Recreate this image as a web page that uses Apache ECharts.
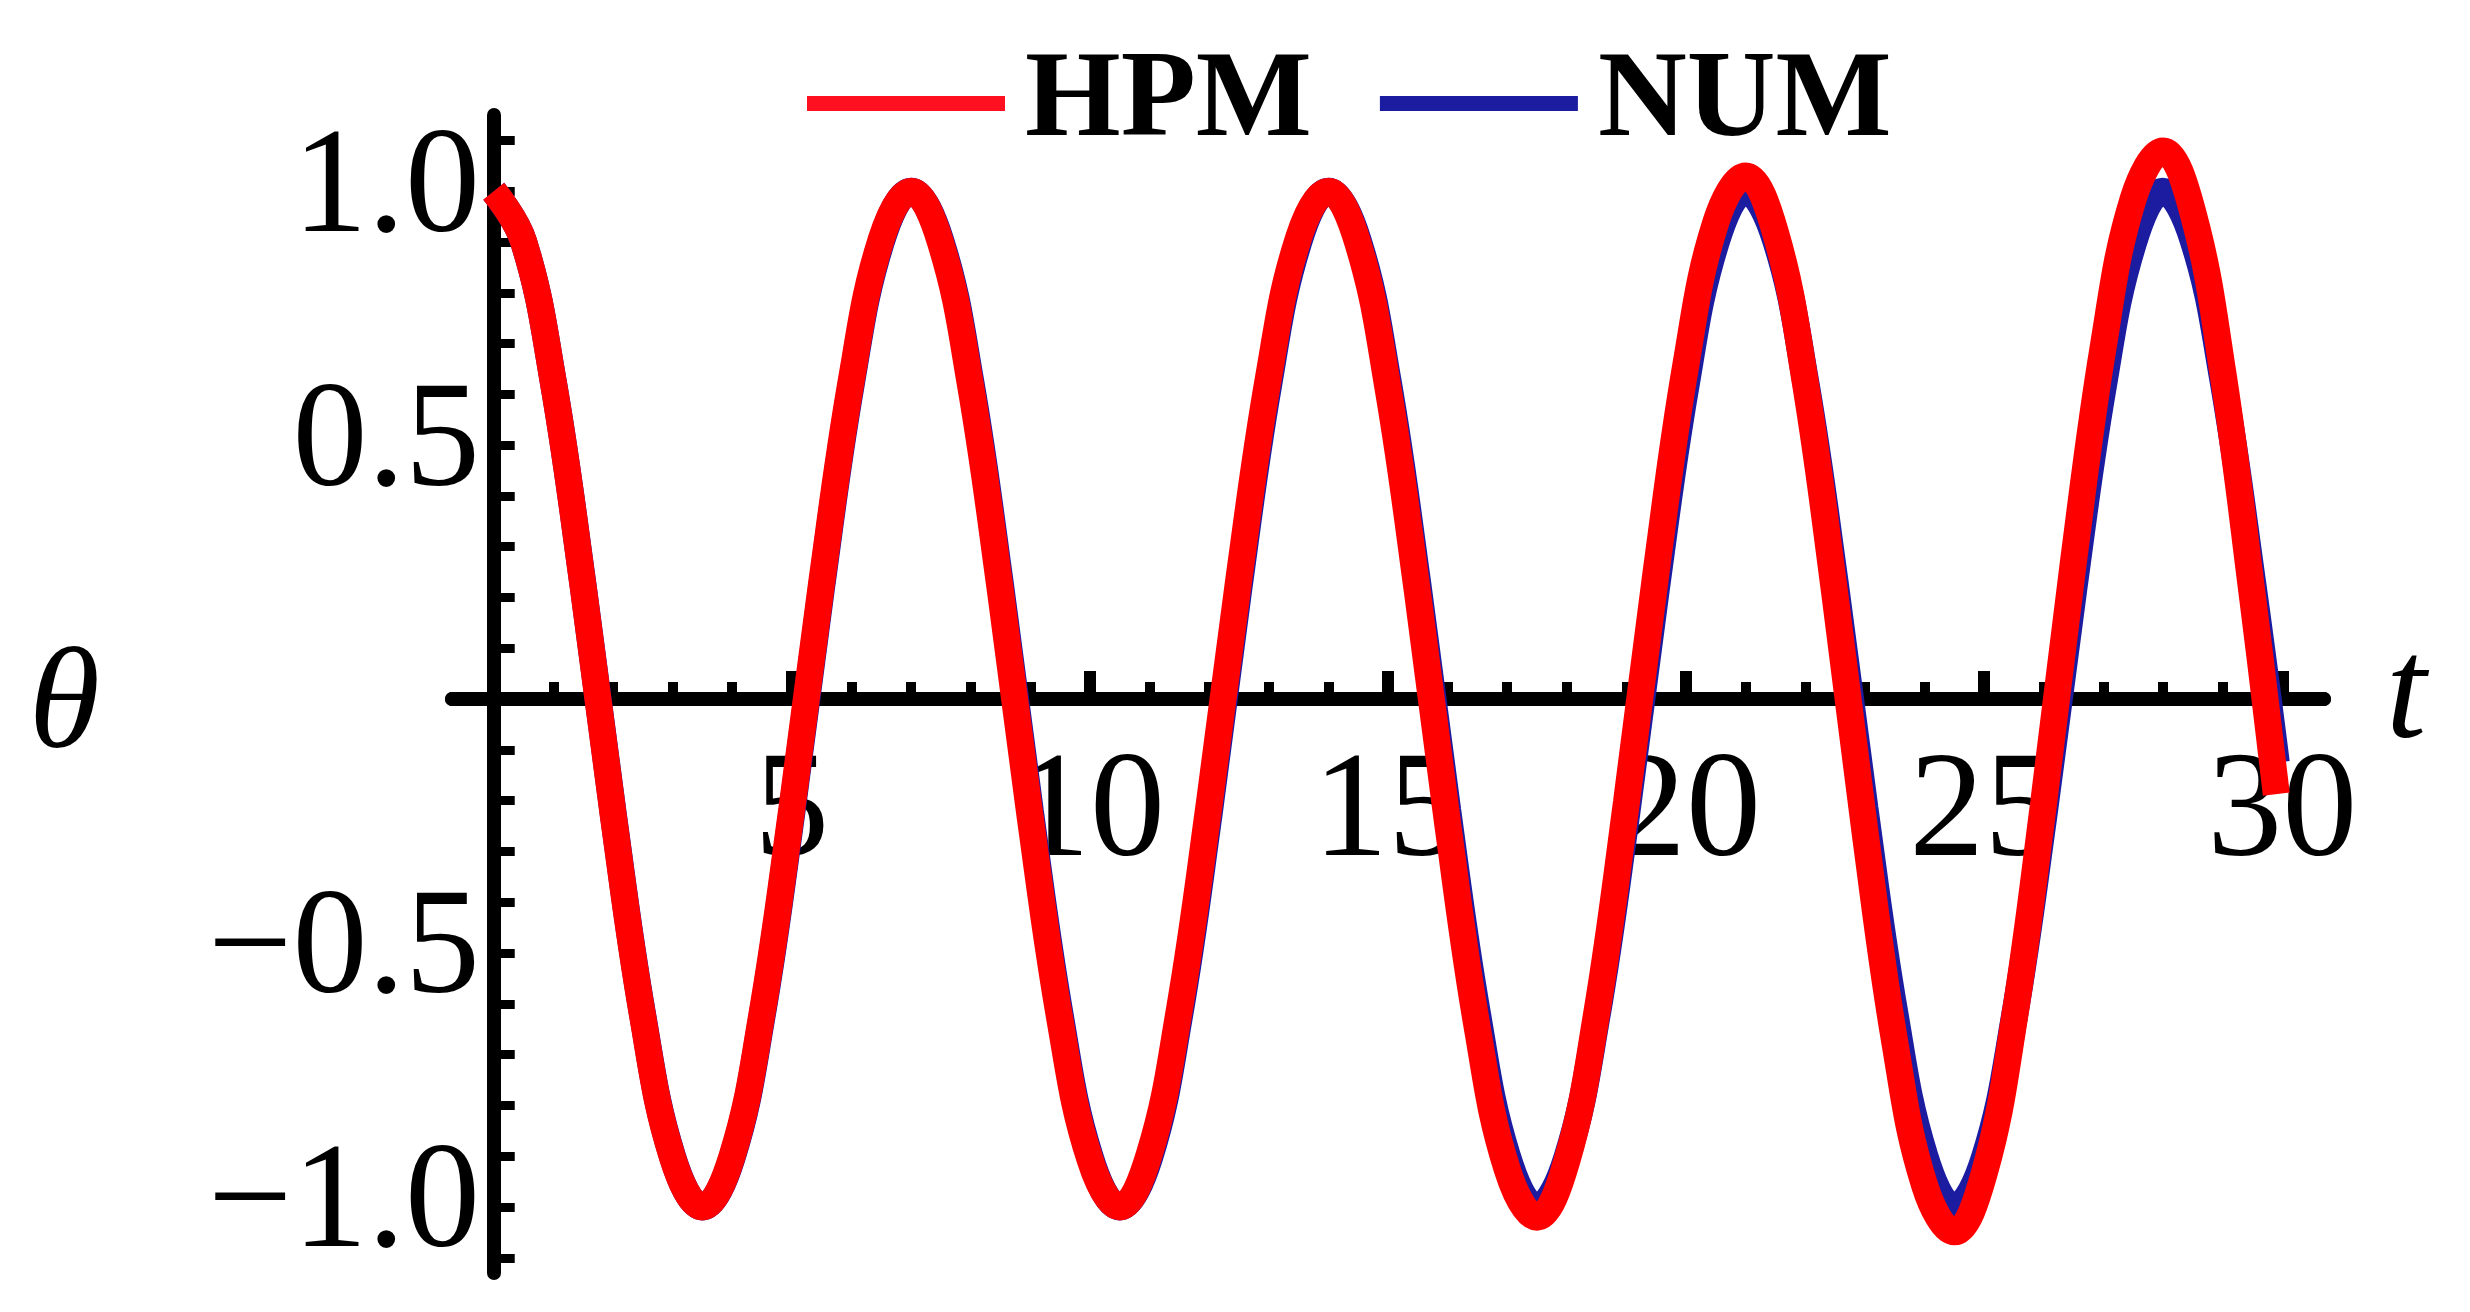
<!DOCTYPE html>
<html>
  <head>
    <meta charset="utf-8" />
    <title>theta(t): HPM vs NUM</title>
    <script src="https://cdn.jsdelivr.net/npm/echarts@6/dist/echarts.min.js"></script>
    <style>
      html, body { margin: 0; padding: 0; background: #fff; }
      #main { width: 2470px; height: 1312px; }
    </style>
  </head>
  <body>
    <div id="main"></div>
    <script>
      // t 采样点
      var tValues = [
        0, 0.5, 1, 1.5, 2, 2.5, 3, 3.5, 4, 4.5,
        5, 5.5, 6, 6.5, 7, 7.5, 8, 8.5, 9, 9.5,
        10, 10.5, 11, 11.5, 12, 12.5, 13, 13.5, 14, 14.5,
        15, 15.5, 16, 16.5, 17, 17.5, 18, 18.5, 19, 19.5,
        20, 20.5, 21, 21.5, 22, 22.5, 23, 23.5, 24, 24.5,
        25, 25.5, 26, 26.5, 27, 27.5, 28, 28.5, 29, 29.5, 29.9
      ]
      // HPM 解（红线）
      var hpmValues = [
        1.000, 0.901, 0.623, 0.221, -0.225, -0.626, -0.903, -1.000, -0.899, -0.619,
        -0.216, 0.229, 0.629, 0.905, 1.000, 0.897, 0.616, 0.212, -0.234, -0.633,
        -0.906, -1.000, -0.895, -0.612, -0.208, 0.238, 0.636, 0.908, 1.000, 0.896,
        0.612, 0.205, -0.245, -0.649, -0.926, -1.020, -0.909, -0.619, -0.203, 0.253,
        0.661, 0.939, 1.030, 0.918, 0.623, 0.202, -0.261, -0.675, -0.957, -1.049,
        -0.934, -0.633, -0.202, 0.273, 0.696, 0.985, 1.079, 0.958, 0.645, 0.202, -0.187
      ]
      // 数值解（蓝线）
      var numValues = [
        1.000, 0.901, 0.624, 0.223, -0.222, -0.623, -0.901, -1.000, -0.902, -0.625,
        -0.224, 0.221, 0.622, 0.900, 1.000, 0.902, 0.626, 0.225, -0.220, -0.621,
        -0.900, -1.000, -0.903, -0.626, -0.226, 0.219, 0.620, 0.899, 1.000, 0.903,
        0.627, 0.227, -0.218, -0.619, -0.899, -1.000, -0.903, -0.628, -0.229, 0.216,
        0.618, 0.898, 1.000, 0.904, 0.629, 0.230, -0.215, -0.617, -0.898, -1.000,
        -0.904, -0.630, -0.231, 0.214, 0.617, 0.897, 1.000, 0.905, 0.631, 0.232, -0.125
      ]
      // 刻度
      var xMinorTicks = [1, 2, 3, 4, 6, 7, 8, 9, 11, 12, 13, 14, 16, 17, 18, 19, 21, 22, 23, 24, 26, 27, 28, 29]
      var xMajorTicks = [5, 10, 15, 20, 25, 30]
      var yTicks = [-1.1, -1, -0.9, -0.8, -0.7, -0.6, -0.5, -0.4, -0.3, -0.2, -0.1,
        0.1, 0.2, 0.3, 0.4, 0.5, 0.6, 0.7, 0.8, 0.9, 1, 1.1]
      var yLabels = [-1, -0.5, 0.5, 1]

      function pairs(ys) {
        return tValues.map(function (t, i) { return [t, ys[i]] })
      }

      var serif = 'Liberation Serif'
      var myChart = echarts.init(document.getElementById('main'))
      var xBase = {
        type: 'value',
        min: -0.7,
        max: 30.7,
        position: 'bottom',
        splitLine: { show: false },
        axisLabel: { show: false },
        axisLine: {
          onZero: true,
          onZeroAxisIndex: 0,
          lineStyle: { color: '#000', width: 14 }
        }
      }
      var option = {
        backgroundColor: '#fff',
        animation: false,
        grid: { left: 452, right: 146, top: 115, bottom: 39, outerBoundsMode: 'none' },
        legend: {
          data: ['HPM', 'NUM'],
          left: 802,
          top: 37,
          icon: 'rect',
          itemWidth: 198,
          itemHeight: 15,
          itemGap: 68,
          textStyle: {
            fontFamily: serif,
            fontWeight: 'bold',
            fontSize: 123,
            color: '#000',
            padding: [0, 0, 0, 15]
          }
        },
        xAxis: [
          // 主轴线 + 小刻度
          Object.assign({}, xBase, {
            name: 't',
            nameLocation: 'end',
            nameGap: 62,
            nameTextStyle: { fontFamily: serif, fontStyle: 'italic', fontSize: 145, color: '#000' },
            axisTick: {
              inside: true,
              length: 17,
              customValues: xMinorTicks,
              lineStyle: { color: '#000', width: 10 }
            }
          }),
          // 大刻度
          Object.assign({}, xBase, {
            axisTick: {
              inside: true,
              length: 28,
              customValues: xMajorTicks,
              lineStyle: { color: '#000', width: 12 }
            }
          }),
          // 刻度标签（放在 θ=0 处）
          {
            type: 'value',
            min: -0.7,
            max: 30.7,
            position: 'bottom',
            offset: -574,
            splitLine: { show: false },
            axisLine: { show: false, onZero: false },
            axisTick: { show: false },
            axisLabel: {
              customValues: xMajorTicks,
              margin: 42,
              fontFamily: serif,
              fontSize: 150,
              color: '#000'
            }
          }
        ],
        yAxis: {
          type: 'value',
          min: -1.13,
          max: 1.15,
          splitLine: { show: false },
          name: 'θ',
          nameLocation: 'middle',
          nameRotate: 0,
          nameGap: 352,
          nameTextStyle: {
            fontFamily: serif,
            fontStyle: 'italic',
            fontSize: 145,
            color: '#000',
            verticalAlign: 'top',
            lineHeight: 30
          },
          axisLine: {
            onZero: true,
            onZeroAxisIndex: 0,
            lineStyle: { color: '#000', width: 14 }
          },
          axisTick: {
            inside: true,
            length: 21,
            customValues: yTicks,
            lineStyle: { color: '#000', width: 9 }
          },
          axisLabel: {
            customValues: yLabels,
            margin: -28,
            fontFamily: serif,
            fontSize: 150,
            color: '#000',
            formatter: function (v) {
              var s = Math.abs(v).toFixed(1)
              return v < 0 ? '\u2212' + s : s
            }
          }
        },
        series: [
          {
            name: 'NUM',
            type: 'line',
            data: pairs(numValues),
            smooth: 0.4,
            showSymbol: false,
            color: '#1c1ca0',
            lineStyle: { width: 27, color: '#1c1ca0' },
            z: 2
          },
          {
            name: 'HPM',
            type: 'line',
            data: pairs(hpmValues),
            smooth: 0.4,
            showSymbol: false,
            color: '#ff1020',
            lineStyle: { width: 27, color: '#ff0000' },
            z: 3
          }
        ]
      }
      myChart.setOption(option)
    </script>
  </body>
</html>
